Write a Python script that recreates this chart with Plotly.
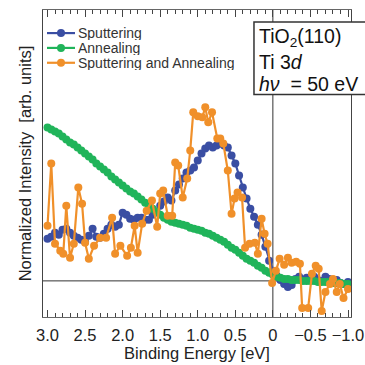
import numpy as np
import plotly.graph_objects as go

# ---------------- data ----------------
series_names = ["Sputtering", "Annealing", "Sputtering and Annealing"]
series_colors = ["#3a4ea3", "#20b45a", "#f0902a"]

sputtering_values = [
    0.42, 0.44, 0.48, 0.46, 0.51, 0.52, 0.48, 0.45, 0.43, 0.41,
    0.39, 0.45, 0.52, 0.44, 0.43, 0.47, 0.52, 0.56, 0.54, 0.56,
    0.68, 0.66, 0.62, 0.61, 0.63, 0.63, 0.61, 0.61, 0.66, 0.69,
    0.75, 0.79, 0.83, 0.80, 0.90, 0.96, 1.02, 1.08, 1.10, 1.13,
    1.20, 1.27, 1.32, 1.35, 1.33, 1.35, 1.37, 1.35, 1.33, 1.25,
    1.17, 1.05, 0.93, 0.82, 0.72, 0.64, 0.56, 0.46, 0.34, 0.20,
    0.10, 0.05, 0.01, -0.03, -0.06, -0.04, 0.02, 0.04, 0.01, 0.03,
    0.02, 0.04, 0.01, 0.00, 0.04, 0.02, -0.01, 0.01, -0.02, -0.03, -0.01,
]
annealing_values = [
    1.53, 1.51, 1.49, 1.47, 1.44, 1.41, 1.38, 1.36, 1.33, 1.30,
    1.27, 1.24, 1.21, 1.17, 1.14, 1.11, 1.08, 1.04, 1.01, 0.98,
    0.95, 0.92, 0.89, 0.87, 0.84, 0.81, 0.78, 0.75, 0.72, 0.69,
    0.66, 0.63, 0.61, 0.59, 0.58, 0.57, 0.56, 0.55, 0.53, 0.52,
    0.51, 0.50, 0.48, 0.47, 0.45, 0.43, 0.41, 0.39, 0.36, 0.33,
    0.31, 0.28, 0.25, 0.22, 0.20, 0.18, 0.15, 0.13, 0.10, 0.08,
    0.06, 0.04, 0.03, 0.02, 0.02, 0.01, 0.01, 0.01, 0.00, 0.00,
    0.00, 0.00, -0.01, -0.01, -0.01, -0.01, -0.02, -0.02, -0.02, -0.03, -0.03,
]
grid_energy = list(np.round(np.linspace(3.0, -1.0, len(sputtering_values)), 3))

sa_energy = [
    3.00, 2.95, 2.90, 2.83, 2.79, 2.75, 2.70, 2.65, 2.59, 2.54,
    2.50, 2.45, 2.38, 2.30, 2.22, 2.14, 2.10, 2.03, 1.94, 1.89,
    1.84, 1.80, 1.74, 1.68, 1.61, 1.54, 1.50, 1.46, 1.40, 1.34,
    1.30, 1.26, 1.20, 1.14, 1.10, 1.06, 1.00, 0.94, 0.90, 0.86,
    0.81, 0.74, 0.70, 0.66, 0.60, 0.55, 0.51, 0.47, 0.41, 0.37,
    0.31, 0.24, 0.20, 0.15, 0.11, 0.07, 0.01, -0.04, -0.09, -0.15,
    -0.20, -0.25, -0.31, -0.36, -0.39, -0.47, -0.52, -0.57, -0.61, -0.65,
    -0.70, -0.76, -0.80, -0.85, -0.89, -0.94, -1.00,
]
sa_values = [
    0.55, 1.17, 0.37, 0.30, 0.27, 0.75, 0.23, 0.37, 0.93, 0.77,
    0.38, 0.22, 0.35, 0.43, 0.43, 0.63, 0.27, 0.35, 0.25, 0.33,
    0.55, 0.28, 0.57, 0.70, 0.80, 0.54, 0.87, 0.90, 0.65, 0.65,
    1.18, 1.15, 0.83, 1.02, 1.30, 1.68, 1.64, 1.63, 1.73, 1.58,
    1.68, 1.42, 1.42, 1.37, 1.10, 0.67, 0.82, 0.88, 0.83, 0.33,
    0.37, 0.38, 0.27, 0.62, 0.47, 0.37, -0.02, 0.10, 0.22, 0.16,
    0.23, 0.18, 0.19, 0.17, -0.27, -0.27, 0.07, 0.15, 0.12, -0.30,
    -0.11, -0.03, 0.02, -0.11, -0.03, -0.17, -0.08,
]

x_tick_vals = [3.0, 2.5, 2.0, 1.5, 1.0, 0.5, 0.0, -0.5, -1.0]
x_tick_text = ["3.0", "2.5", "2.0", "1.5", "1.0", "0.5", "0", "\u22120.5", "\u22121.0"]

# ---------------- figure ----------------
FONT = "Liberation Sans, Arial, sans-serif"
fig = go.Figure()
xs = [grid_energy, grid_energy, sa_energy]
ys = [sputtering_values, annealing_values, sa_values]
for name, color, x, y in zip(series_names, series_colors, xs, ys):
    fig.add_trace(go.Scatter(
        x=x, y=y, name=name, mode="lines+markers",
        line=dict(color=color, width=2.2),
        marker=dict(color=color, size=8),
        showlegend=False,
    ))

fig.update_layout(
    width=365, height=365,
    margin=dict(l=43, r=14, t=10, b=48),
    paper_bgcolor="white", plot_bgcolor="white",
    font=dict(family=FONT, color="#222"),
    xaxis=dict(
        range=[3.06, -1.04], autorange=False, automargin=False,
        tickmode="array", tickvals=x_tick_vals, ticktext=x_tick_text,
        ticks="inside", ticklen=7, tickwidth=1, tickcolor="#444",
        minor=dict(dtick=0.1, ticks="inside", ticklen=4, tickcolor="#444", tickwidth=1),
        showline=True, linecolor="#666", linewidth=1, mirror="ticks",
        showgrid=False, zeroline=False,
        tickfont=dict(size=16.5, color="#222"), ticklabelstandoff=3,
        title=dict(text="Binding Energy [eV]", font=dict(size=16.5, color="#222"), standoff=4),
    ),
    yaxis=dict(
        range=[-0.36, 2.70], autorange=False, automargin=False,
        showticklabels=False, ticks="",
        showline=True, linecolor="#444", linewidth=1, mirror=True,
        showgrid=False, zeroline=False,
        title=dict(text="Normalized Intensity  [arb. units]", font=dict(size=16.5, color="#222"), standoff=6),
    ),
)

# reference lines at zero
fig.add_shape(type="line", xref="x", yref="paper", x0=0, x1=0, y0=0, y1=1,
              line=dict(color="#333", width=1), layer="below")
fig.add_shape(type="line", xref="paper", yref="y", x0=0, x1=1, y0=0, y1=0,
              line=dict(color="#333", width=1), layer="below")

# compact legend (plot-area fraction coordinates)
PW, PH = 308.0, 306.0
def px_x(p):
    return (p - 43) / PW
def px_y(p):
    return (316 - p) / PH
for i, (name, color) in enumerate(zip(series_names, series_colors)):
    ry = 33 + 14.8 * i
    fig.add_shape(type="line", xref="paper", yref="paper",
                  x0=px_x(47), x1=px_x(75), y0=px_y(ry), y1=px_y(ry),
                  line=dict(color=color, width=2.2), layer="above")
    fig.add_shape(type="circle", xref="paper", yref="paper",
                  x0=px_x(57), x1=px_x(65), y0=px_y(ry + 4), y1=px_y(ry - 4),
                  line=dict(color=color, width=0), fillcolor=color, layer="above")
    fig.add_annotation(text=name, xref="paper", yref="paper", x=px_x(77), y=px_y(ry),
                       xanchor="left", yanchor="middle", showarrow=False,
                       height=14, valign="middle", borderpad=0,
                       font=dict(size=14, color="#333", family=FONT))

# info box (extends past the right edge)
fig.add_shape(type="rect", xref="paper", yref="paper",
              x0=0.685, x1=1.07, y0=0.725, y1=0.961,
              line=dict(color="#333", width=1.5), fillcolor="white", layer="above")
info_lines = ["TiO<sub>2</sub>(110)", "Ti 3<i>d</i>", "<i>h\u03bd</i>  = 50 eV"]
info_y = [0.910, 0.830, 0.760]
for txt, yy in zip(info_lines, info_y):
    fig.add_annotation(text=txt, xref="paper", yref="paper", x=0.695, y=yy,
                       xanchor="left", yanchor="middle", showarrow=False,
                       font=dict(size=19.5, color="#111", family=FONT))

fig.write_html("out.html", config={"displayModeBar": False},
               post_script="document.body.style.margin='0';document.body.style.overflow='hidden';")
